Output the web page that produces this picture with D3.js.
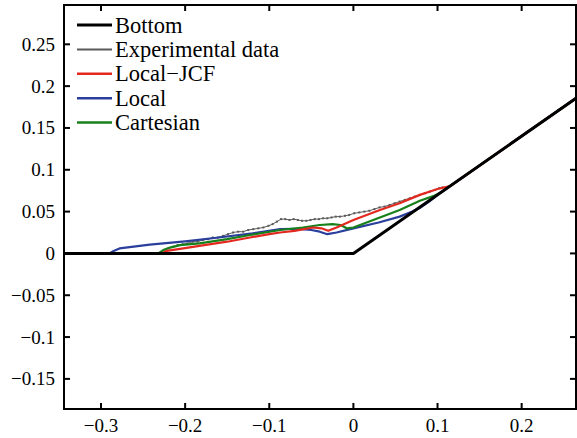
<!DOCTYPE html>
<html><head><meta charset="utf-8">
<script src="https://cdn.jsdelivr.net/npm/d3@7"></script>
</head><body style="margin:0">
<script>
// ---- data ----
const xTicks = [-0.3, -0.2, -0.1, 0, 0.1, 0.2];
const yTicks = [-0.15, -0.1, -0.05, 0, 0.05, 0.1, 0.15, 0.2, 0.25];
const xDomain = [-0.344, 0.2646];
const yDomain = [-0.186, 0.297];

const bottomX = [-0.344, 0, 0.2646];
const bottomY = [0, 0, 0.1855];

const expX = [-0.344,-0.232,-0.226,-0.220,-0.214,-0.209,-0.203,-0.197,-0.191,-0.185,-0.179,-0.173,-0.167,-0.161,-0.155,-0.149,-0.143,-0.137,-0.131,-0.125,-0.119,-0.113,-0.107,-0.101,-0.096,-0.091,-0.086,-0.081,-0.076,-0.071,-0.066,-0.061,-0.056,-0.051,-0.046,-0.041,-0.036,-0.031,-0.026,-0.021,-0.016,-0.010,-0.005,0.001,0.007,0.013,0.019,0.025,0.031,0.037,0.043,0.049,0.055,0.061,0.067,0.073,0.079,0.085,0.091,0.097,0.102,0.106];
const expY = [0,0,0.003,0.006,0.008,0.010,0.011,0.012,0.014,0.014,0.016,0.017,0.019,0.019,0.021,0.023,0.025,0.026,0.026,0.028,0.029,0.030,0.031,0.033,0.035,0.038,0.041,0.041,0.040,0.041,0.040,0.039,0.039,0.040,0.041,0.041,0.042,0.042,0.043,0.044,0.044,0.045,0.046,0.048,0.049,0.050,0.051,0.053,0.055,0.056,0.058,0.060,0.062,0.064,0.066,0.068,0.070,0.072,0.074,0.076,0.078,0.079];

const jcfX = [-0.344,-0.228,-0.222,-0.206,-0.183,-0.150,-0.123,-0.100,-0.087,-0.070,-0.048,-0.038,-0.030,-0.020,0.000,0.0315,0.055,0.079,0.100,0.115,0.2646];
const jcfY = [0,0,0.003,0.0055,0.009,0.014,0.019,0.023,0.025,0.027,0.031,0.030,0.027,0.031,0.040,0.052,0.060,0.070,0.077,0.0805,0.1855];

const localX = [-0.344,-0.290,-0.285,-0.278,-0.242,-0.200,-0.160,-0.120,-0.087,-0.070,-0.050,-0.040,-0.031,-0.020,0.000,0.030,0.055,0.070,0.080,0.090,0.100,0.2646];
const localY = [0,0,0.003,0.006,0.0105,0.0145,0.019,0.024,0.029,0.0295,0.028,0.026,0.023,0.025,0.030,0.037,0.044,0.050,0.055,0.062,0.070,0.1855];

const cartX = [-0.344,-0.232,-0.226,-0.218,-0.206,-0.183,-0.150,-0.123,-0.087,-0.060,-0.040,-0.025,-0.015,-0.008,0.000,0.0315,0.055,0.079,0.095,0.105,0.2646];
const cartY = [0,0,0.004,0.007,0.010,0.012,0.017,0.022,0.028,0.031,0.034,0.035,0.034,0.030,0.031,0.043,0.052,0.063,0.0685,0.0735,0.1855];

const legendNames = ["Bottom","Experimental data","Local\u2212JCF","Local","Cartesian"];
const legendColors = ["#000000","#5a5a5a","#e3291f","#2a3e9c","#17801a"];
const legendWidths = [3,2,2.5,2.5,2.5];

// ---- drawing ----
const W = 577, H = 438;
const L = 64, R = 576, T = 5, B = 409;
const FONT = '"Liberation Serif"';
const svg = d3.select("body").append("svg").attr("width", W).attr("height", H)
  .attr("font-family", "Liberation Serif");

const x = d3.scaleLinear().domain(xDomain).range([L, R]);
const y = d3.scaleLinear().domain(yDomain).range([B, T]);

const fmt = d => d === 0 ? "0" : String(+d.toFixed(2)).replace("-", "\u2212");

const line = d3.line().x(d => x(d[0])).y(d => y(d[1]));
const g = svg.append("g");

function series(xs, ys, color, w) {
  g.append("path").datum(xs.map((v,i)=>[v, ys[i]]))
    .attr("d", line).attr("fill","none").attr("stroke", color)
    .attr("stroke-width", w).attr("stroke-linejoin","round");
}
const expData = expX.map((v,i)=>[v, expY[i]]);
series(expX, expY, legendColors[1], 1);
g.selectAll("rect.m").data(expData.filter(d=>d[0] > -0.225)).enter().append("rect")
  .attr("x", d => x(d[0]) - 1).attr("y", d => y(d[1]) - 1)
  .attr("width", 2).attr("height", 2).attr("fill", legendColors[1]);

series(localX, localY, legendColors[3], 2.2);
series(cartX, cartY, legendColors[4], 2.2);
series(jcfX, jcfY, legendColors[2], 2.2);
series(bottomX, bottomY, legendColors[0], 3);

const tl = 6;
xTicks.forEach(v => {
  svg.append("line").attr("x1", x(v)).attr("x2", x(v)).attr("y1", B).attr("y2", B - tl).attr("stroke","#000").attr("stroke-width",2);
  svg.append("line").attr("x1", x(v)).attr("x2", x(v)).attr("y1", T).attr("y2", T + tl).attr("stroke","#000").attr("stroke-width",2);
  svg.append("text").attr("x", x(v)).attr("y", 432).attr("text-anchor","middle")
    .style("font-family", FONT).attr("font-size", 19).text(fmt(v));
});
yTicks.forEach(v => {
  svg.append("line").attr("x1", L).attr("x2", L + tl).attr("y1", y(v)).attr("y2", y(v)).attr("stroke","#000").attr("stroke-width",2);
  svg.append("line").attr("x1", R).attr("x2", R - tl).attr("y1", y(v)).attr("y2", y(v)).attr("stroke","#000").attr("stroke-width",2);
  svg.append("text").attr("x", 55).attr("y", y(v) + 6.5).attr("text-anchor","end")
    .style("font-family", FONT).attr("font-size", 19).text(fmt(v));
});
svg.append("rect").attr("x", L).attr("y", T).attr("width", R-L).attr("height", B-T)
  .attr("fill","none").attr("stroke","#000").attr("stroke-width",2);

legendNames.forEach((name, i) => {
  const cy = 25 + i * 24.4;
  svg.append("line").attr("x1", 77).attr("x2", 112).attr("y1", cy).attr("y2", cy)
    .attr("stroke", legendColors[i]).attr("stroke-width", legendWidths[i]);
  svg.append("text").attr("x", 115).attr("y", cy + 7.5)
    .style("font-family", FONT).attr("font-size", 22.5).text(name);
});
</script>
</body></html>
